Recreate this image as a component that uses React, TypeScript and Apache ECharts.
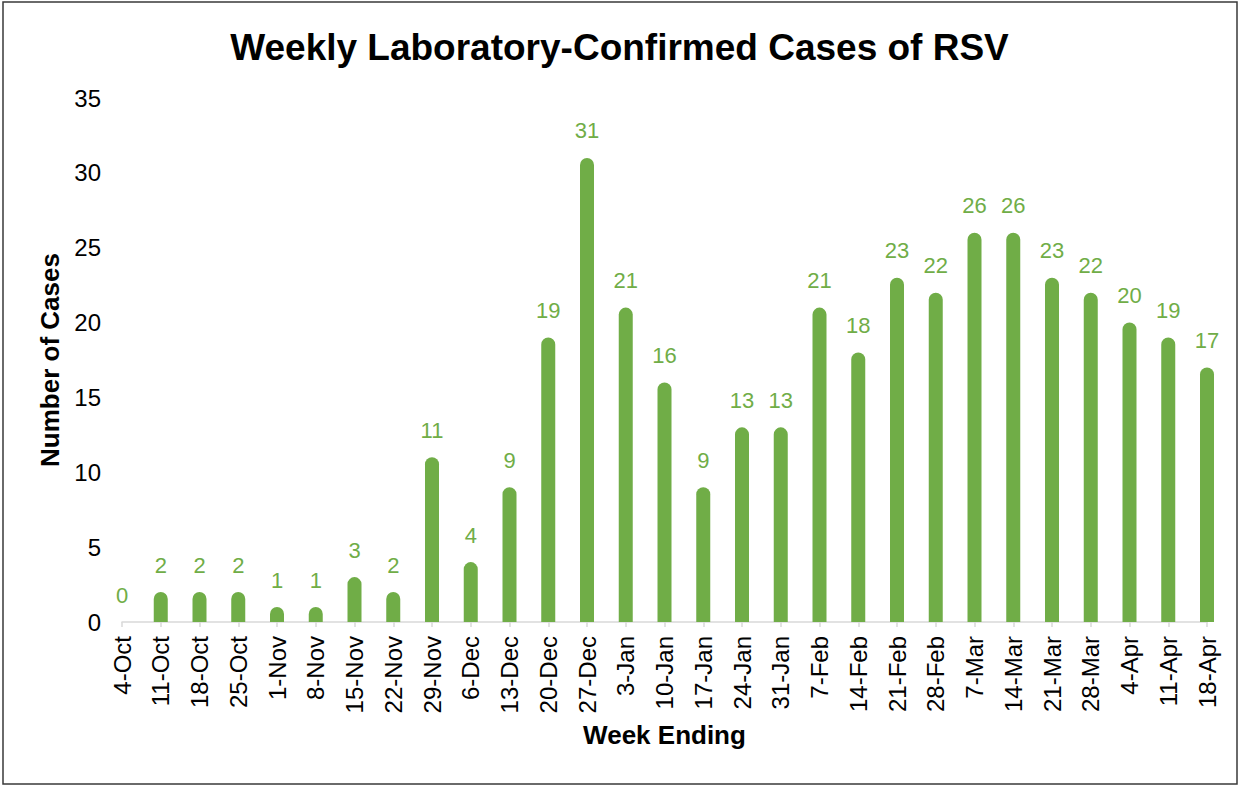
import React, { useEffect, useRef } from "react";
import * as echarts from "echarts";

const weeks = [
  "4-Oct", "11-Oct", "18-Oct", "25-Oct", "1-Nov", "8-Nov", "15-Nov", "22-Nov",
  "29-Nov", "6-Dec", "13-Dec", "20-Dec", "27-Dec", "3-Jan", "10-Jan", "17-Jan",
  "24-Jan", "31-Jan", "7-Feb", "14-Feb", "21-Feb", "28-Feb", "7-Mar", "14-Mar",
  "21-Mar", "28-Mar", "4-Apr", "11-Apr", "18-Apr",
];
const cases = [
  0, 2, 2, 2, 1, 1, 3, 2, 11, 4, 9, 19, 31, 21, 16, 9, 13, 13, 21, 18, 23, 22,
  26, 26, 23, 22, 20, 19, 17,
];
const titleText = "Weekly Laboratory-Confirmed Cases of RSV";
const yAxisName = "Number of Cases";
const xAxisName = "Week Ending";

const FONT = "'Liberation Sans', Arial, sans-serif";
const GREEN = "#70AD47";

export default function App() {
  const ref = useRef<HTMLDivElement>(null);
  useEffect(() => {
    if (!ref.current) return;
    const chart = echarts.init(ref.current, null, { renderer: "svg" });
    chart.setOption({
      animation: false,
      backgroundColor: "#ffffff",
      textStyle: { fontFamily: FONT },
      title: {
        text: titleText,
        left: "center",
        top: 24,
        textStyle: { fontFamily: FONT, fontSize: 37, fontWeight: "bold", color: "#000" },
      },
      graphic: [
        {
          type: "rect",
          shape: { x: 3, y: 2, width: 1234, height: 782 },
          style: { fill: "none", stroke: "#3a3a3a", lineWidth: 1.5 },
          silent: true,
        },
      ],
      grid: { left: 122, right: 32, top: 98, bottom: 164, containLabel: false },
      xAxis: {
        type: "category",
        data: weeks,
        boundaryGap: false,
        name: xAxisName,
        nameLocation: "middle",
        nameGap: 100,
        nameTextStyle: { fontFamily: FONT, fontSize: 26, fontWeight: "bold", color: "#000" },
        axisLine: { show: true, lineStyle: { color: "#D9D9D9", width: 1.5 } },
        axisTick: { show: true, length: 5, lineStyle: { color: "#D9D9D9", width: 1.5 } },
        axisLabel: {
          rotate: 90,
          interval: 0,
          margin: 14,
          fontFamily: FONT,
          fontSize: 24,
          color: "#000",
        },
        splitLine: { show: false },
      },
      yAxis: {
        type: "value",
        min: 0,
        max: 35,
        interval: 5,
        name: yAxisName,
        nameLocation: "middle",
        nameGap: 52,
        nameTextStyle: { fontFamily: FONT, fontSize: 26, fontWeight: "bold", color: "#000" },
        axisLine: { show: false },
        axisTick: { show: false },
        splitLine: { show: false },
        axisLabel: { margin: 21, fontFamily: FONT, fontSize: 24, color: "#000" },
      },
      series: [
        {
          type: "bar",
          data: cases,
          barWidth: 14,
          itemStyle: {
            color: GREEN,
            borderRadius: [7, 7, 0, 0],
          },
          label: {
            show: true,
            position: "top",
            distance: 16,
            fontFamily: FONT,
            fontSize: 22,
            color: GREEN,
          },
        },
      ],
    });
    return () => chart.dispose();
  }, []);
  return (
    <div
      ref={ref}
      style={{ position: "fixed", left: 0, top: 0, width: 1239, height: 786 }}
    />
  );
}
